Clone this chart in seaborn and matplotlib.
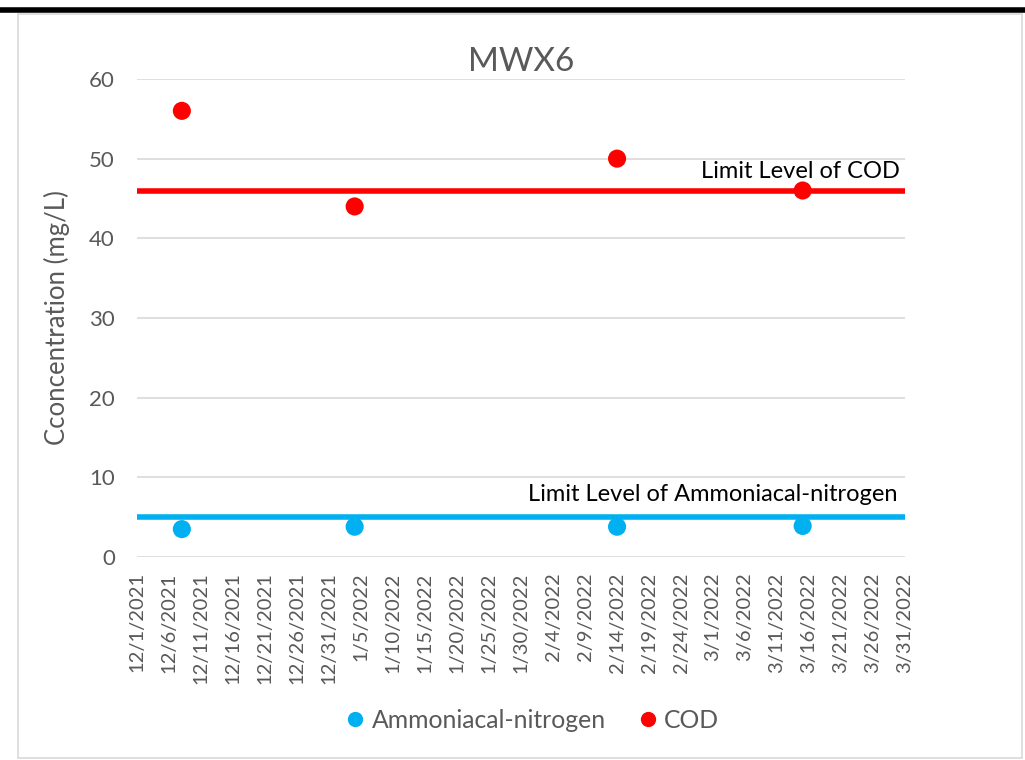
import numpy as np
import pandas as pd
import matplotlib
matplotlib.use("Agg")
import matplotlib.pyplot as plt
import matplotlib.dates as mdates
import seaborn as sns
from matplotlib.patches import Rectangle
from matplotlib.lines import Line2D

# data
sample_dates = ["2021-12-08", "2022-01-04", "2022-02-14", "2022-03-15"]
ammonia = [3.5, 3.8, 3.8, 3.9]
cod = [56, 44, 50, 46]
cod_limit = 46
ammonia_limit = 5
x_start = "2021-12-01"
x_end = "2022-03-31"

sns.set_theme(style="white")
plt.rcParams["font.family"] = ["Lato", "DejaVu Sans"]

df = pd.DataFrame({
    "Date": pd.to_datetime(sample_dates * 2),
    "Value": ammonia + cod,
    "Parameter": ["Ammoniacal-nitrogen"] * 4 + ["COD"] * 4,
})
palette = {"Ammoniacal-nitrogen": "#00b0f0", "COD": "#ff0000"}

fig = plt.figure(figsize=(10.25, 7.6), dpi=100)
ax = fig.add_axes([0.1337, 0.2671, 0.7493, 0.629])

# outer chart frame and top rule
fig.patches.append(Rectangle((18 / 1025, 2 / 760), 1004 / 1025, 744 / 760,
                             transform=fig.transFigure, fill=False,
                             edgecolor="#d9d9d9", linewidth=1.2))
fig.lines.append(Line2D([0, 1], [1 - 10 / 760, 1 - 10 / 760],
                        transform=fig.transFigure, color="black", linewidth=4))

ax.axhline(cod_limit, color="#ff0000", linewidth=4, zorder=2)
ax.axhline(ammonia_limit, color="#00b0f0", linewidth=4, zorder=2)

sns.scatterplot(data=df, x="Date", y="Value", hue="Parameter", palette=palette,
                s=170, edgecolor="none", ax=ax, zorder=3, legend=False)

ax.set_ylim(0, 60)
ax.set_yticks(np.arange(0, 61, 10))
ax.yaxis.grid(True, color="#d9d9d9", linewidth=1.2)
ax.set_axisbelow(True)

ticks = pd.date_range(x_start, x_end, freq="5D")
ax.set_xlim(mdates.date2num(pd.Timestamp(x_start)), mdates.date2num(pd.Timestamp(x_end)))
ax.set_xticks(mdates.date2num(ticks))
ax.set_xticklabels([f"{d.month}/{d.day}/{d.year}" for d in ticks], rotation=90)

for s in ax.spines.values():
    s.set_visible(False)
ax.tick_params(axis="both", length=0, colors="#595959")
ax.tick_params(axis="x", pad=11, labelsize=14.5)
ax.tick_params(axis="y", pad=16, labelsize=16)

ax.set_xlabel("")
ax.set_ylabel("Cconcentration (mg/L)", fontsize=18.5, color="#595959", labelpad=14)
ax.set_title("MWX6", fontsize=24, color="#595959", pad=6)

ax.text(0.9935, 48.4, "Limit Level of COD", transform=ax.get_yaxis_transform(),
        ha="right", va="center", fontsize=17, color="black")
ax.text(0.9896, 7.9, "Limit Level of Ammoniacal-nitrogen",
        transform=ax.get_yaxis_transform(), ha="right", va="center", fontsize=17, color="black")

handles = [Line2D([], [], marker="o", linestyle="", markersize=11, color=palette[k],
                  markeredgewidth=0) for k in palette]
fig.legend(handles, list(palette), loc="center", bbox_to_anchor=(0.518, 1 - 720 / 760),
           ncol=2, frameon=False, fontsize=17.8, handlelength=1.0, handletextpad=0.15,
           columnspacing=1.2, labelcolor="#595959")

fig.savefig("out.png", dpi=100)
